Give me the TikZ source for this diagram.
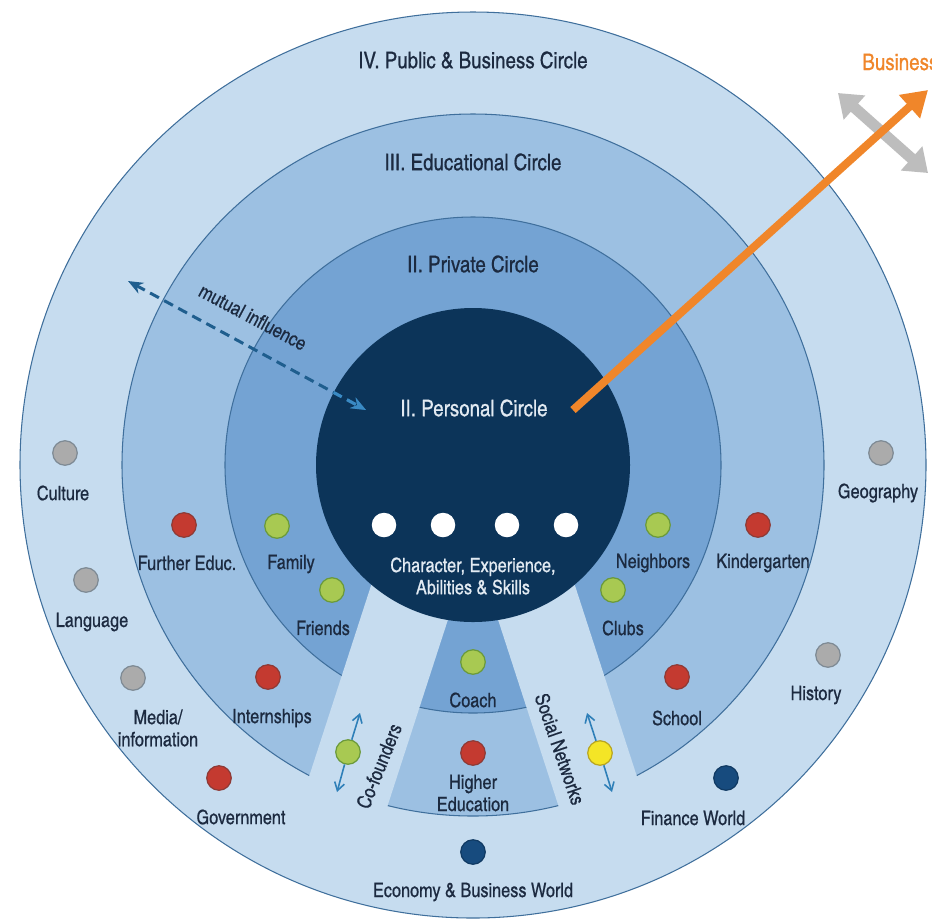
\documentclass[tikz,border=0pt]{standalone}
\usepackage{fontspec}
\setmainfont{texgyreheroscn}[Extension=.otf, UprightFont=*-regular, BoldFont=*-bold, ItalicFont=*-italic, BoldItalicFont=*-bolditalic, UprightFeatures={FakeBold=0.6}]
\usetikzlibrary{arrows.meta}
\definecolor{ringfour}{HTML}{C6DCEF}
\definecolor{ringthree}{HTML}{9CC0E2}
\definecolor{ringtwo}{HTML}{74A3D3}
\definecolor{ringone}{HTML}{0C3459}
\definecolor{ringedge}{HTML}{3F6F9C}
\definecolor{txtcol}{HTML}{1C2A40}
\definecolor{orangecol}{HTML}{F0862A}
\definecolor{greyarr}{HTML}{BDBDBD}
\definecolor{dashcol}{HTML}{1F5E8E}
\definecolor{dashlight}{HTML}{3A8AC4}
\definecolor{smallblue}{HTML}{2E7FB8}
\definecolor{gfill}{HTML}{ABABAB}\definecolor{gline}{HTML}{7E8A94}
\definecolor{rfill}{HTML}{C43A30}\definecolor{rline}{HTML}{8E3A36}
\definecolor{grfill}{HTML}{A8C952}\definecolor{grline}{HTML}{6B9A3A}
\definecolor{nfill}{HTML}{174B7E}\definecolor{nline}{HTML}{103A63}
\definecolor{yfill}{HTML}{F4E526}\definecolor{yline}{HTML}{B8A520}
\definecolor{whitetxt}{HTML}{E2EAF2}
\begin{document}
\begin{tikzpicture}[x=0.02cm,y=-0.02cm,
  dotbase/.style={circle, minimum size=0.49cm, inner sep=0pt, line width=0.7pt},
  greydot/.style={dotbase, fill=gfill, draw=gline},
  reddot/.style={dotbase, fill=rfill, draw=rline},
  greendot/.style={dotbase, fill=grfill, draw=grline},
  navydot/.style={dotbase, fill=nfill, draw=nline},
  yellowdot/.style={dotbase, fill=yfill, draw=yline},
  whitedot/.style={dotbase, fill=white},
  lbl/.style={text=txtcol, font=\fontsize{11.3}{12.6}\selectfont, inner sep=0pt, align=center},
  wlbl/.style={lbl, text=whitetxt},
  heading/.style={text=txtcol, font=\fontsize{13}{15}\selectfont, inner sep=0pt},
  ringline/.style={draw=ringedge, line width=0.6pt},
  smallarr/.style={draw=smallblue, line width=0.9pt, -{Straight Barb[length=0.16cm,width=0.2cm]}},
  dasharr/.style={line width=0.06cm, dash pattern=on 0.2cm off 0.12cm, {Stealth[length=0.3cm,width=0.24cm]}-{Stealth[length=0.3cm,width=0.24cm]}},
]
\useasboundingbox (0,0) rectangle (932,921);
\fill[white] (0,0) rectangle (932,921);
\coordinate (C) at (473,465);
% rings
\fill[ringfour] (C) circle[radius=453];
\draw[ringline] (C) circle[radius=453];
\fill[ringthree] (C) circle[radius=351];
\draw[ringline] (C) circle[radius=351];
\fill[ringtwo] (C) circle[radius=248];
\draw[ringline] (C) circle[radius=248];
% strips cut out of rings II and III
\begin{scope}
  \clip (C) circle[radius=354];
  \fill[ringfour] (415,450) -- (503,450) -- (357,900) -- (269,900) -- cycle;
  \fill[ringfour] (531,450) -- (443,450) -- (589,900) -- (677,900) -- cycle;
\end{scope}
% personal circle
\fill[ringone] (C) circle[radius=157];

% grey double arrow and orange arrow
\coordinate (ga) at (838,93);
\coordinate (gb) at (928,173);
\draw[greyarr, line width=0.22cm, {Triangle[length=0.44cm,width=0.62cm]}-{Triangle[length=0.44cm,width=0.62cm]}] (ga) -- (gb);
\coordinate (oa) at (573,410);
\coordinate (ob) at (928,90);
\draw[orangecol, line width=0.16cm, -{Triangle[length=0.5cm,width=0.6cm]}] (oa) -- (ob);
\node[heading, text=orangecol, anchor=west] (business) at (862,62) {Business};

% mutual influence
\coordinate (ma) at (128,281);
\coordinate (mb) at (366,410);
\draw[dashcol, dasharr] (ma) -- (mb);
\begin{scope}
  \clip (C) circle[radius=157];
  \draw[dashlight, dasharr] (ma) -- (mb);
\end{scope}
\node[lbl, rotate=-28] (mutual) at (253,317) {mutual influence};

% headings
\node[heading] (h4) at (473,60) {IV. Public \& Business Circle};
\node[heading] (h3) at (473,162) {III. Educational Circle};
\node[heading] (h2) at (473,264) {II. Private Circle};
\node[heading, text=whitetxt] (h1) at (474,408) {II. Personal Circle};

% white dots
\node[whitedot] (w1) at (384,525) {};
\node[whitedot] (w2) at (443,525) {};
\node[whitedot] (w3) at (507,525) {};
\node[whitedot] (w4) at (566,525) {};
\node[wlbl] (core) at (473,576) {Character, Experience,\\Abilities \& Skills};

% grey dots
\node[greydot] (dculture) at (65,453) {};
\node[lbl] (tculture) at (63,493) {Culture};
\node[greydot] (dlang) at (86,580) {};
\node[lbl] (tlang) at (92,622) {Language};
\node[greydot] (dmedia) at (133,678) {};
\node[lbl] (tmedia) at (158,728) {Media/\\information};
\node[greydot] (dgeo) at (881,453) {};
\node[lbl] (tgeo) at (878,493) {Geography};
\node[greydot] (dhist) at (828,655) {};
\node[lbl] (thist) at (816,695) {History};

% red dots
\node[reddot] (dfurther) at (184,525) {};
\node[lbl] (tfurther) at (187,563) {Further Educ.};
\node[reddot] (dintern) at (268,677) {};
\node[lbl] (tintern) at (272,718) {Internships};
\node[reddot] (dgov) at (219,778) {};
\node[lbl] (tgov) at (241,817) {Government};
\node[reddot] (dkinder) at (758,525) {};
\node[lbl] (tkinder) at (763,563) {Kindergarten};
\node[reddot] (dschool) at (677,677) {};
\node[lbl] (tschool) at (677,718) {School};
\node[reddot] (dhigher) at (473,753) {};
\node[lbl] (thigher) at (473,793) {Higher\\Education};

% green dots
\node[greendot] (dfamily) at (277,526) {};
\node[lbl] (tfamily) at (291,564) {Family};
\node[greendot] (dfriends) at (332,590) {};
\node[lbl] (tfriends) at (323,628) {Friends};
\node[greendot] (dneigh) at (658,525) {};
\node[lbl] (tneigh) at (653,563) {Neighbors};
\node[greendot] (dclubs) at (613,590) {};
\node[lbl] (tclubs) at (623,628) {Clubs};
\node[greendot] (dcoach) at (473,662) {};
\node[lbl] (tcoach) at (473,700) {Coach};

% co-founders and social networks
\node[greendot] (dcof) at (348,752) {};
\coordinate (cfu) at (360,713);
\coordinate (cfd) at (337,792);
\draw[smallarr] (dcof) -- (cfu);
\draw[smallarr] (dcof) -- (cfd);
\node[lbl, rotate=68] (tcof) at (379,766) {Co-founders};
\node[yellowdot] (dsoc) at (600,753) {};
\coordinate (snu) at (587,713);
\coordinate (snd) at (612,792);
\draw[smallarr] (dsoc) -- (snu);
\draw[smallarr] (dsoc) -- (snd);
\node[lbl, rotate=-71] (tsoc) at (560,749) {Social Networks};

% navy dots
\node[navydot] (dfin) at (726,778) {};
\node[lbl] (tfin) at (693,818) {Finance World};
\node[navydot] (deco) at (473,852) {};
\node[lbl] (teco) at (473,892) {Economy \& Business World};
\end{tikzpicture}
\end{document}
